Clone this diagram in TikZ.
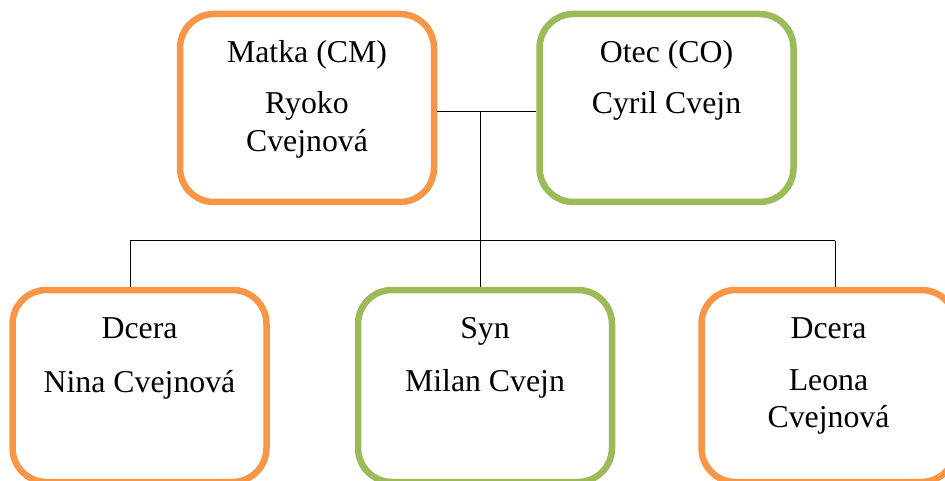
\documentclass[tikz,border=0pt]{standalone}
\usepackage{fontspec}
\setmainfont{Liberation Serif}
\definecolor{boxorange}{HTML}{F79646}
\definecolor{boxgreen}{HTML}{9BBB59}
\begin{document}
\begin{tikzpicture}[x=1pt,y=-1pt,
  person/.style={draw=#1, line width=6.5pt, rounded corners=34pt, fill=white,
    minimum width=254pt, minimum height=188pt, inner sep=0pt},
  label/.style={anchor=base, inner sep=0pt, font=\fontsize{31.8pt}{38pt}\selectfont},
  link/.style={draw=black, line width=1pt}]
\useasboundingbox (0,0) rectangle (945,481);

% parents
\node[person=boxorange] (matka) at (307,108) {};
\node[person=boxgreen]  (otec)  at (666.5,108) {};
% children (their lower edges run off the page)
\node[person=boxorange, minimum height=192pt] (nina)  at (139.5,386) {};
\node[person=boxgreen,  minimum height=192pt] (milan) at (485,386) {};
\node[person=boxorange, minimum height=192pt] (leona) at (828.5,386) {};

% texts
\node[label] (matkaA) at (307,63)  {Matka (CM)};
\node[label] (matkaB) at (307,114) {Ryoko};
\node[label] (matkaC) at (307,152) {Cvejnová};
\node[label] (otecA)  at (666.5,63)  {Otec (CO)};
\node[label] (otecB)  at (666.5,114) {Cyril Cvejn};
\node[label] (ninaA)  at (139.5,338) {Dcera};
\node[label] (ninaB)  at (139.5,392) {Nina Cvejnová};
\node[label] (milanA) at (485,338) {Syn};
\node[label] (milanB) at (485,391) {Milan Cvejn};
\node[label] (leonaA) at (828.5,338) {Dcera};
\node[label] (leonaB) at (828.5,390) {Leona};
\node[label] (leonaC) at (828.5,427) {Cvejnová};

% connectors
\coordinate (mid) at (480,112);
\coordinate (bus) at (480,241);
\coordinate (busL) at (130,241);
\coordinate (busR) at (835,241);
\draw[link] (matka.east |- mid) -- (otec.west |- mid);
\draw[link] (mid) -- (bus);
\draw[link] (busL) -- (busR);
\draw[link] (busL) -- (busL |- nina.north);
\draw[link] (bus) -- (bus |- milan.north);
\draw[link] (busR) -- (busR |- leona.north);
\end{tikzpicture}
\end{document}
